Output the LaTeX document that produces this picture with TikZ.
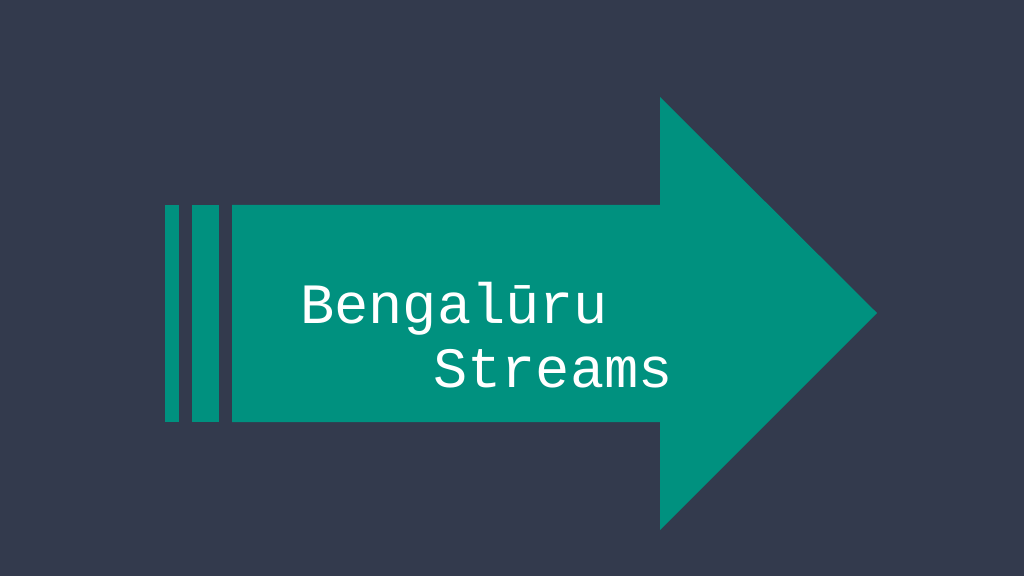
\documentclass[tikz,border=0pt]{standalone}
\usepackage{fontspec}
\newfontfamily\monofont{Liberation Mono}
\definecolor{bgcol}{HTML}{333A4D}
\definecolor{tealcol}{HTML}{00917F}
\begin{document}
\begin{tikzpicture}[x=1pt,y=1pt,
  shapefill/.style={fill=tealcol,draw=none},
  label/.style={text=white,font=\monofont\fontsize{57}{60}\selectfont,inner sep=0pt,anchor=base west}]
\fill[bgcol] (0,0) rectangle (1024,576);
\useasboundingbox (0,0) rectangle (1024,576);
% stripes
\fill[shapefill] (165,154) rectangle (179,371);
\fill[shapefill] (192,154) rectangle (219,371);
% arrow
\fill[shapefill] (232,154) -- (232,371) -- (660,371) -- (660,479) -- (877,263) -- (660,46) -- (660,154) -- cycle;
\node[label] (l1) at (300,253) {Bengalūru};
\node[label] (l2) at (433,189) {Streams};
\end{tikzpicture}
\end{document}
